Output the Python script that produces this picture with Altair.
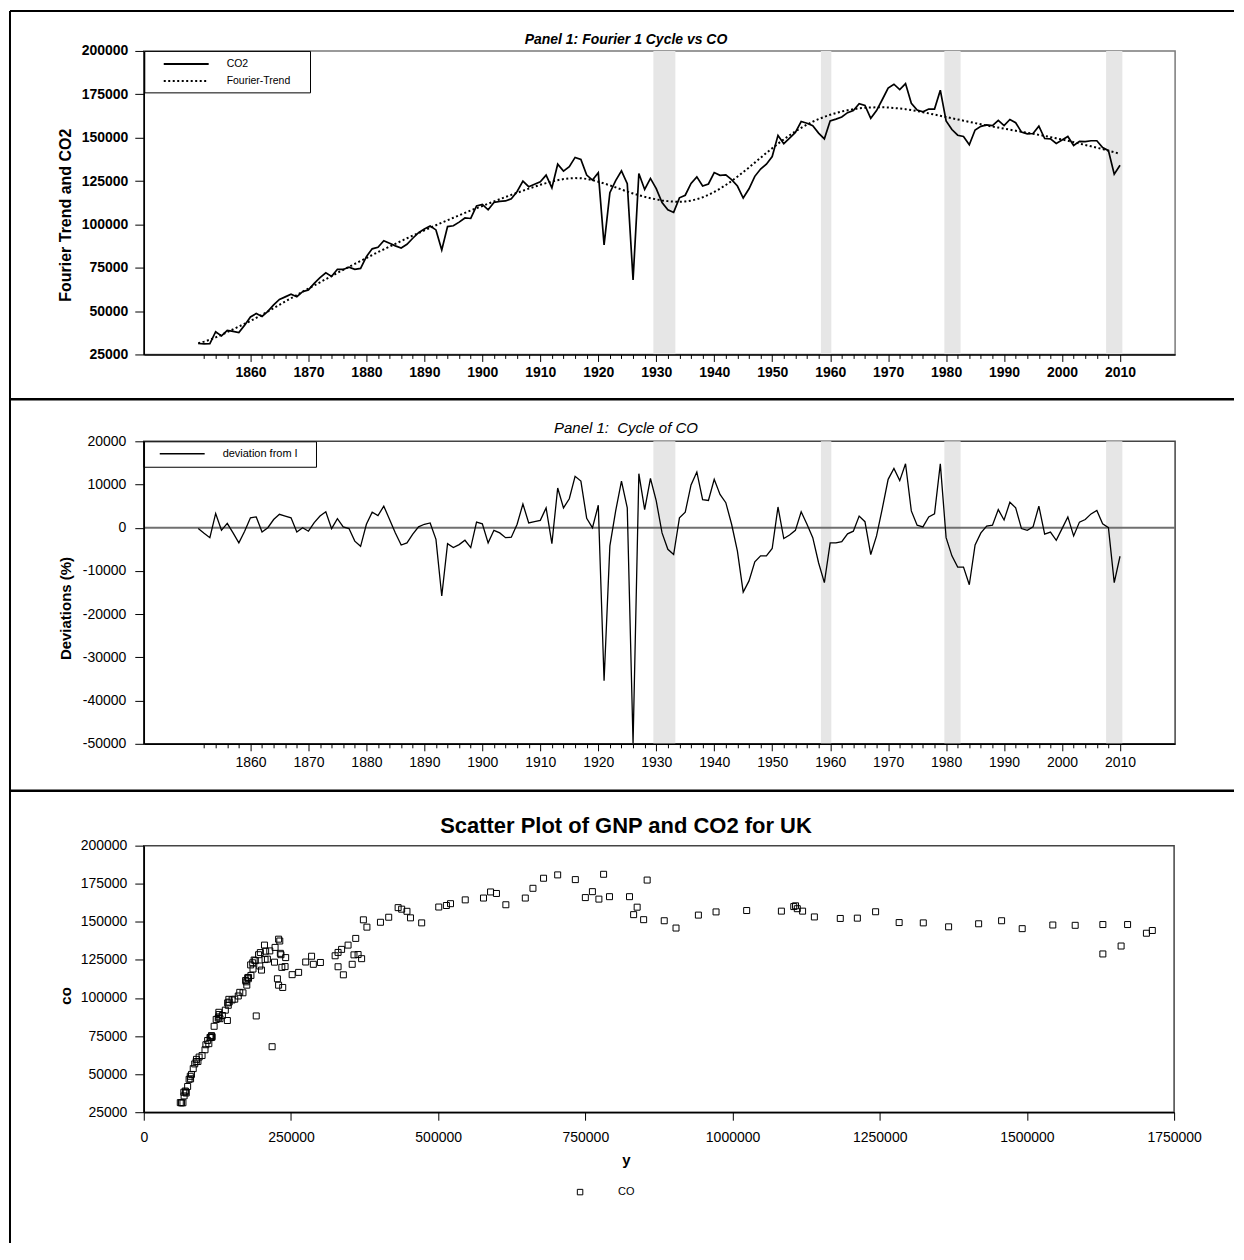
import altair as alt
import pandas as pd

FONT = "Liberation Sans"

YEARS = list(range(1851, 2011))

CO2 = [
    31300, 31100, 31200, 38100, 35700, 38900, 38300, 37600, 41900, 46600,
    48600, 46900, 49800, 53600, 56700, 58200, 59700, 58300, 61200, 62200,
    66000, 69300, 72100, 70000, 74100, 74000, 75300, 74100, 74600, 81400,
    85900, 86800, 90600, 89100, 87600, 86400, 88500, 92000, 95200, 97300,
    99100, 96800, 85200, 98700, 99200, 101300, 103700, 103400, 110600, 111500,
    108400, 112600, 113300, 113500, 114800, 119000, 124900, 121700, 123100, 124500,
    128400, 121000, 134700, 130700, 133200, 138600, 137400, 128400, 125500, 129800,
    88200, 118300, 125200, 130900, 123500, 68000, 129300, 120100, 126500, 120600,
    112600, 108400, 106900, 115300, 116800, 123600, 127400, 122100, 123300, 129900,
    128300, 128500, 125800, 122100, 115200, 120500, 127700, 131900, 134700, 139100,
    151300, 146500, 149700, 153000, 159300, 158300, 156900, 152600, 149300, 159700,
    160700, 161900, 164400, 165600, 169600, 168600, 161200, 165600, 172000, 178600,
    180800, 177700, 181200, 169800, 165900, 164900, 166500, 166500, 177400, 159600,
    154700, 151400, 150700, 145900, 154400, 156500, 157400, 157000, 160000, 157000,
    160500, 158600, 153200, 152200, 152400, 156600, 149500, 149300, 146700, 148700,
    150700, 145500, 147900, 147700, 148200, 148200, 144300, 142500, 128900, 134100,
]

TREND = [
    31500, 32400, 33500, 34800, 36300, 37900, 39500, 41100, 42700, 44300,
    46100, 47900, 49800, 51700, 53600, 55500, 57400, 59300, 61200, 63000,
    64800, 66600, 68400, 70200, 72000, 73800, 75500, 77200, 78900, 80600,
    82300, 84000, 85600, 87200, 88800, 90400, 92000, 93500, 95000, 96500,
    98000, 99500, 101000, 102400, 103800, 105200, 106600, 108000, 109300, 110600,
    111900, 113200, 114500, 115800, 117000, 118200, 119400, 120600, 121700, 122800,
    123800, 124700, 125500, 126100, 126500, 126700, 126600, 126200, 125500, 124600,
    123600, 122500, 121300, 120100, 118900, 117800, 116800, 115900, 115100, 114400,
    113800, 113400, 113100, 113000, 113200, 113700, 114500, 115600, 117000, 118700,
    120600, 122700, 125000, 127500, 130100, 132800, 135600, 138400, 141200, 143900,
    146500, 149000, 151400, 153600, 155600, 157500, 159200, 160700, 162000, 163200,
    164200, 165100, 165800, 166400, 166900, 167200, 167400, 167500, 167500, 167400,
    167100, 166800, 166400, 165900, 165300, 164700, 164000, 163300, 162600, 161900,
    161200, 160500, 159800, 159100, 158400, 157700, 157000, 156400, 155800, 155200,
    154600, 154000, 153400, 152800, 152200, 151600, 151000, 150300, 149600, 148900,
    148200, 147400, 146600, 145800, 145000, 144200, 143400, 142500, 141600, 140700,
]

DEVIATION = [
    -200, -1300, -2300, 3300, -600, 1000, -1200, -3500, -800, 2300,
    2500, -1000, 0, 1900, 3100, 2700, 2300, -1000, 0, -800,
    1200, 2700, 3700, -200, 2100, 200, -200, -3100, -4300, 800,
    3600, 2800, 5000, 1900, -1200, -4000, -3500, -1500, 200, 800,
    1100, -2700, -15800, -3700, -4600, -3900, -2900, -4600, 1300, 900,
    -3500, -600, -1200, -2300, -2200, 800, 5500, 1100, 1400, 1700,
    4600, -3700, 9200, 4600, 6700, 11900, 10800, 2200, 0, 5200,
    -35400, -4200, 3900, 10800, 4600, -49800, 12500, 4200, 11400, 6200,
    -1200, -5000, -6200, 2300, 3600, 9900, 12900, 6500, 6300, 11200,
    7700, 5800, 800, -5400, -14900, -12300, -7900, -6500, -6500, -4800,
    4800, -2500, -1700, -600, 3700, 800, -2300, -8100, -12700, -3500,
    -3500, -3200, -1400, -800, 2700, 1400, -6200, -1900, 4500, 11200,
    13700, 10900, 14800, 3900, 600, 200, 2500, 3200, 14800, -2300,
    -6500, -9100, -9100, -13200, -4000, -1200, 400, 600, 4200, 1800,
    5900, 4600, -200, -600, 200, 5000, -1500, -1000, -2900, -200,
    2500, -1900, 1300, 1900, 3200, 4000, 900, 0, -12700, -6600,
]

GNP = [
    62000, 64000, 66500, 68000, 68500, 70500, 71500, 72000, 74500, 77000,
    79000, 79500, 81000, 84000, 86500, 89000, 89500, 92000, 94000, 99000,
    104000, 105500, 108500, 110500, 112500, 113500, 115000, 115500, 116000, 119500,
    123000, 126500, 127500, 128000, 127500, 129500, 133500, 138500, 143500, 145000,
    144500, 142500, 142000, 150000, 154500, 160500, 163000, 168500, 174000, 173000,
    175000, 177500, 176500, 178000, 182000, 185500, 187500, 181500, 185000, 189500,
    195000, 197000, 205000, 207000, 223000, 229000, 231000, 233000, 210000, 198000,
    191000, 200000, 206000, 214000, 222000, 218000, 232000, 234500, 241000, 240000,
    227000, 229000, 236000, 252000, 263000, 275000, 285000, 288000, 300000, 330000,
    357000, 364000, 370000, 354000, 339000, 330000, 325000, 336000, 347000, 360000,
    373000, 379000, 402000, 416000, 432000, 438000, 447000, 453000, 472000, 501000,
    514000, 521000, 546000, 577000, 589000, 599000, 615000, 648000, 661000, 679000,
    703000, 733000, 781000, 762000, 750000, 773000, 791000, 825000, 855000, 838000,
    832000, 849000, 884000, 904000, 942000, 972000, 1024000, 1083000, 1104000, 1119000,
    1107000, 1110000, 1139000, 1183000, 1212000, 1243000, 1283000, 1324000, 1367000, 1418000,
    1457000, 1492000, 1544000, 1582000, 1629000, 1671000, 1713000, 1703000, 1629000, 1660000,
]

BAND_START = [1929.5, 1958.4, 1979.7, 2007.6]
BAND_END = [1933.3, 1960.2, 1982.5, 2010.4]

YEAR_TICKS = list(range(1852, 2011, 2))
P1_Y_TICKS = [25000, 50000, 75000, 100000, 125000, 150000, 175000, 200000]
P2_Y_TICKS = [-50000, -40000, -30000, -20000, -10000, 0, 10000, 20000]
P3_X_TICKS = [0, 250000, 500000, 750000, 1000000, 1250000, 1500000, 1750000]
P3_Y_TICKS = [25000, 50000, 75000, 100000, 125000, 150000, 175000, 200000]

assert len(CO2) == len(TREND) == len(DEVIATION) == len(GNP) == len(YEARS)

ts = pd.DataFrame({"year": YEARS, "co2": CO2, "trend": TREND, "dev": DEVIATION})
bands = pd.DataFrame({"start": BAND_START, "end": BAND_END})
sc = pd.DataFrame({"gnp": GNP, "co": CO2})
one = pd.DataFrame({"k": [0]})
zero = pd.DataFrame({"z": [0]})

W, H1, H2, W3, H3 = 1033, 304, 303, 1032, 267
BAND_COLOR = "#e6e6e6"

xs = alt.Scale(domain=[1841.6, 2019.5], nice=False, zero=False)


def year_axis(weight, pad):
    return alt.Axis(
        values=YEAR_TICKS, format="d",
        labelExpr="datum.value % 10 === 0 ? datum.label : ''",
        tickSize={"condition": {"test": "datum.value % 10 === 0", "value": 7}, "value": 4},
        labelPadding=pad, labelFontSize=14, labelFontWeight=weight,
        labelOverlap=False, labelFlush=False, zindex=1, domainWidth=1.5,
    )


def rule(x, y, x2=None, y2=None, width=2, color="black", dash=None):
    enc = {"x": alt.value(x), "y": alt.value(y)}
    if x2 is not None:
        enc["x2"] = alt.value(x2)
    if y2 is not None:
        enc["y2"] = alt.value(y2)
    kw = dict(color=color, strokeWidth=width)
    if dash is not None:
        kw["strokeDash"] = dash
    return alt.Chart(one).mark_rule(**kw).encode(**enc)


def label(text, x, y, size, weight="normal", style="normal", align="left", baseline="middle"):
    return alt.Chart(one).mark_text(
        text=text, fontSize=size, fontWeight=weight, fontStyle=style,
        align=align, baseline=baseline, color="black",
    ).encode(x=alt.value(x), y=alt.value(y))


def box(x, x2, y, y2):
    return alt.Chart(one).mark_rect(fill="white", stroke="black", strokeWidth=1).encode(
        x=alt.value(x), x2=alt.value(x2), y=alt.value(y), y2=alt.value(y2))


# ---------------- Panel 1 ----------------
xe1 = alt.X("year:Q", scale=xs, axis=year_axis("bold", 4), title=None)
y1s = alt.Scale(domain=[25000, 200000], nice=False, zero=False)
y1a = alt.Axis(
    values=P1_Y_TICKS, format="d", tickSize=9, labelPadding=7, labelFontSize=14,
    labelFontWeight="bold", title="Fourier Trend and CO2", titleFontSize=16,
    titleFontWeight="bold", titleAngle=270, titleX=-78, titleY=164,
    titleAlign="center", titleBaseline="middle", zindex=1, domainWidth=1.5,
)
b1 = alt.Chart(bands).mark_rect(color=BAND_COLOR).encode(
    x=alt.X("start:Q", scale=xs, axis=year_axis("bold", 4), title=None),
    x2="end:Q", y=alt.value(0), y2=alt.value(H1))
l1 = alt.Chart(ts).mark_line(color="black", strokeWidth=1.7).encode(
    x=xe1, y=alt.Y("co2:Q", scale=y1s, axis=y1a))
t1 = alt.Chart(ts).mark_line(color="black", strokeWidth=2, strokeDash=[2, 2.5]).encode(
    x=xe1, y=alt.Y("trend:Q", scale=y1s, axis=y1a))

p1 = alt.layer(
    b1, l1, t1,
    box(1, 167, 0.5, 42),
    rule(20, 13, x2=65, width=2),
    rule(20, 30, x2=65, width=2, dash=[2, 2.5]),
    label("CO2", 83, 13, 10.5),
    label("Fourier-Trend", 83, 30, 10.5),
    label("Panel 1: Fourier 1 Cycle vs CO", 483, -7, 14, weight="bold", style="italic",
          align="center", baseline="alphabetic"),
    rule(-134, -40, x2=1092, width=2),
    rule(-134, -40, y2=1194, width=2),
    rule(-133, 349, x2=1092, width=2.5),
    rule(-133, 741, x2=1092, width=2.5),
).properties(width=W, height=H1, view=alt.ViewBackground(stroke="#7a7a7a", strokeWidth=1.5))

# ---------------- Panel 2 ----------------
xe2 = alt.X("year:Q", scale=xs, axis=year_axis("normal", 5), title=None)
y2s = alt.Scale(domain=[-50000, 20000], nice=False, zero=False)
y2a = alt.Axis(
    values=P2_Y_TICKS, labelExpr="'' + datum.value", tickSize=9, labelPadding=9,
    labelFontSize=14, title="Deviations (%)", titleFontSize=15, titleFontWeight="bold",
    titleAngle=270, titleX=-78, titleY=167, titleAlign="center", titleBaseline="middle",
    zindex=1, domainWidth=1.5,
)
b2 = alt.Chart(bands).mark_rect(color=BAND_COLOR).encode(
    x=alt.X("start:Q", scale=xs, axis=year_axis("normal", 5), title=None),
    x2="end:Q", y=alt.value(0), y2=alt.value(H2))
z2 = alt.Chart(zero).mark_rule(color="#707070", strokeWidth=2).encode(
    y=alt.Y("z:Q", scale=y2s, axis=y2a))
l2 = alt.Chart(ts).mark_line(color="black", strokeWidth=1.3).encode(
    x=xe2, y=alt.Y("dev:Q", scale=y2s, axis=y2a))

p2 = alt.layer(
    b2, z2, l2,
    box(0, 173, 0.5, 26),
    rule(16, 12.5, x2=61, width=1.5),
    label("deviation from I", 79, 12.5, 11),
    label("Panel 1:\u00a0 Cycle of CO", 483, -8, 15, style="italic",
          align="center", baseline="alphabetic"),
).properties(width=W, height=H2, view=alt.ViewBackground(stroke="#444444", strokeWidth=1.5))

# ---------------- Panel 3 ----------------
x3 = alt.X("gnp:Q", scale=alt.Scale(domain=[0, 1750000], nice=False, zero=False),
           axis=alt.Axis(values=P3_X_TICKS, format="d", tickSize=8, labelPadding=10,
                         labelFontSize=14, title="y", titleFontSize=15, titleFontWeight="bold",
                         titleX=483, titleY=52, titleAlign="center", titleBaseline="alphabetic",
                         labelFlush=False, labelOverlap=False, domainWidth=1.5))
y3 = alt.Y("co:Q", scale=alt.Scale(domain=[25000, 200000], nice=False, zero=False),
           axis=alt.Axis(values=P3_Y_TICKS, format="d", tickSize=9, labelPadding=8,
                         labelFontSize=14, title="co", titleFontSize=15, titleFontWeight="bold",
                         titleAngle=270, titleX=-78, titleY=150, titleAlign="center",
                         titleBaseline="middle", domainWidth=1.5))
s3 = alt.Chart(sc).mark_point(shape="square", filled=False, color="black", size=36,
                              strokeWidth=1, opacity=1).encode(x=x3, y=y3)
leg3 = alt.Chart(one).mark_point(shape="square", filled=False, color="black", size=30,
                                 strokeWidth=1, opacity=1).encode(x=alt.value(437), y=alt.value(347))

p3 = alt.layer(
    s3, leg3,
    label("CO", 475, 347, 11),
    label("Scatter Plot of GNP and CO2 for UK", 483, -13, 22, weight="bold",
          align="center", baseline="alphabetic"),
).properties(width=W3, height=H3, view=alt.ViewBackground(stroke="#444444", strokeWidth=1.5))


def spacer(h):
    return alt.Chart(one).mark_point(opacity=0).encode(
        x=alt.value(0), y=alt.value(0)
    ).properties(width=W, height=h, view=alt.ViewBackground(stroke="transparent"))


chart = alt.vconcat(
    p1, spacer(87), p2, spacer(102), p3, spacing=0, bounds="flush"
).properties(padding=0, background="white").configure(font=FONT).configure_axis(
    labelFont=FONT, titleFont=FONT, labelColor="black", titleColor="black",
    domainColor="black", tickColor="black", grid=False,
)

chart.save("out.html", embed_options={"renderer": "svg", "actions": False})
